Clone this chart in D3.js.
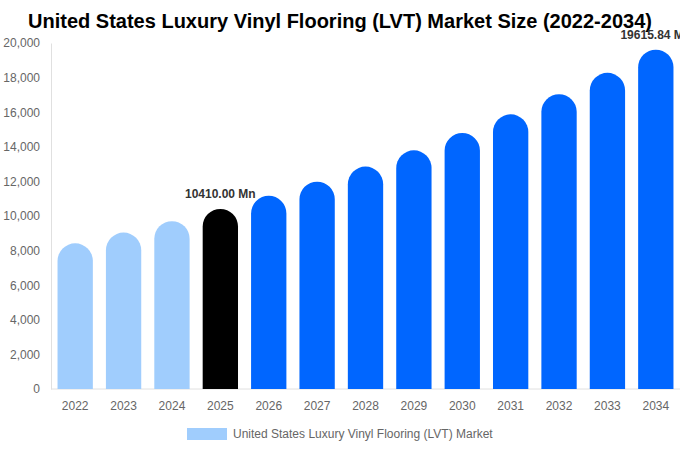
<!DOCTYPE html>
<html>
<head>
<meta charset="utf-8">
<script src="https://cdn.jsdelivr.net/npm/d3@7"></script>
<style>
  body { margin: 0; background: #fff; }
  svg { font-family: "Liberation Sans", Arial, sans-serif; }
</style>
</head>
<body>
<svg id="chart" width="680" height="450"></svg>
<script>
// Data
const years = ["2022", "2023", "2024", "2025", "2026", "2027", "2028", "2029", "2030", "2031", "2032", "2033", "2034"];
const marketSize = [8420, 9040, 9700, 10410, 11170, 11985, 12860, 13795, 14800, 15880, 17040, 18280, 19615.84];
const yTicks = [0, 2000, 4000, 6000, 8000, 10000, 12000, 14000, 16000, 18000, 20000];
const labelledYears = ["2025", "2034"];
const legendLabel = "United States Luxury Vinyl Flooring (LVT) Market";

const svg = d3.select("#chart");
const MARGIN = { left: 51, right: 0, top: 43, bottom: 61 };
const width = 680, height = 450;

const x = d3.scaleBand()
  .domain(years)
  .range([MARGIN.left, width - MARGIN.right])
  .paddingInner(0.27)
  .paddingOuter(0.135);

const y = d3.scaleLinear()
  .domain([0, 20000])
  .range([height - MARGIN.bottom, MARGIN.top]);

function barColor(yr) {
  if (yr < "2025") return "#a0cdfd";
  if (yr === "2025") return "#000000";
  return "#0066ff";
}

// title
svg.append("text")
  .attr("x", 340)
  .attr("y", 28)
  .attr("text-anchor", "middle")
  .style("font-size", "20px")
  .style("font-weight", "bold")
  .style("fill", "#000")
  .text("United States Luxury Vinyl Flooring (LVT) Market Size (2022-2034)");

// y axis
const yAxis = svg.append("g")
  .attr("transform", `translate(${MARGIN.left},0)`)
  .call(d3.axisLeft(y).tickValues(yTicks).tickSize(0).tickPadding(11).tickFormat(d3.format(",")));
yAxis.select(".domain").attr("stroke", "#e0e0e0");
yAxis.selectAll("text").style("font-size", "12px").style("fill", "#666")
  .style("font-family", "'Liberation Sans', Arial, sans-serif");

// x axis
const xAxis = svg.append("g")
  .attr("transform", `translate(0,${y(0)})`)
  .call(d3.axisBottom(x).tickSize(0).tickPadding(12));
xAxis.select(".domain").attr("stroke", "#e0e0e0").attr("d", `M${MARGIN.left},0H${width}`);
xAxis.selectAll("text").style("font-size", "12px").style("fill", "#666")
  .style("font-family", "'Liberation Sans', Arial, sans-serif");

// bars with rounded tops
const bw = x.bandwidth();
const r = bw / 2;
function barPath(d, i) {
  const x0 = x(years[i]);
  const yTop = y(d);
  const yBot = y(0);
  const rr = Math.min(r, yBot - yTop);
  return `M${x0},${yBot}V${yTop + rr}A${rr},${rr} 0 0 1 ${x0 + bw},${yTop + rr}V${yBot}Z`;
}

svg.append("g").selectAll("path")
  .data(marketSize)
  .join("path")
  .attr("d", barPath)
  .attr("fill", (d, i) => barColor(years[i]));

// value labels
svg.append("g").selectAll("text")
  .data(years.filter(yr => labelledYears.includes(yr)))
  .join("text")
  .attr("x", yr => x(yr) + bw / 2)
  .attr("y", yr => y(marketSize[years.indexOf(yr)]) - 11)
  .attr("text-anchor", "middle")
  .style("font-size", "12px")
  .style("font-weight", "bold")
  .style("fill", "#333")
  .text(yr => marketSize[years.indexOf(yr)].toFixed(2) + " Mn");

// legend
const legend = svg.append("g").attr("transform", "translate(187,428)");
legend.append("rect")
  .attr("width", 40).attr("height", 12)
  .attr("fill", "#a0cdfd");
legend.append("text")
  .attr("x", 46).attr("y", 10)
  .style("font-size", "12px")
  .style("fill", "#666")
  .text(legendLabel);
</script>
</body>
</html>
